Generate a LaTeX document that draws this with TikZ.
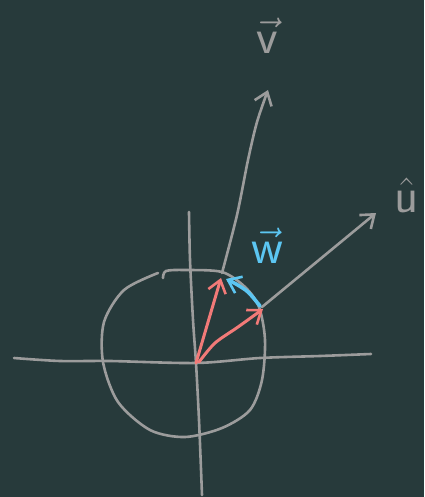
\documentclass[tikz,border=0pt]{standalone}
\usetikzlibrary{arrows.meta}
\definecolor{bg}{HTML}{273A3B}
\definecolor{chalk}{HTML}{9C9C9C}
\definecolor{redv}{HTML}{F27A78}
\definecolor{bluev}{HTML}{5CC6F2}
\begin{document}
\begin{tikzpicture}[x=0.5pt,y=-0.5pt,
  line cap=round,line join=round,
  gline/.style={draw=chalk,line width=1.3pt},
  rline/.style={draw=redv,line width=1.5pt},
  bline/.style={draw=bluev,line width=1.8pt},
  barb/.style={-{Straight Barb[length=6pt,width=9pt,line width=1.3pt]}},
  lbl/.style={font=\fontsize{32}{34}\selectfont}]
\fill[bg] (0,0) rectangle (424,497);
\useasboundingbox (0,0) rectangle (424,497);
% coordinates
\coordinate (O) at (196,363);
\coordinate (Vb) at (222,273);
\coordinate (Vt) at (268,90);
\coordinate (Ub) at (262,307);
\coordinate (Ut) at (376,213);
\coordinate (R1) at (221,278);
\coordinate (R2) at (263,309);
\coordinate (W) at (226,279);
% axes
\draw[gline] plot[smooth] coordinates {(14,358) (60,361) (110,361) (196,363) (260,358) (320,356) (371,354)};
\draw[gline] plot[smooth] coordinates {(189,212) (190,260) (193,320) (196,363) (199,420) (202,495)};
% circle
\draw[gline] plot[smooth] coordinates {(163,278) (166,271) (185,270) (222,272) (245,287) (259,307) (265,340) (262,380) (250,410) (222,428) (185,437) (150,430) (118,402) (103,362) (104,322) (124,290) (158,273)};
% v vector
\draw[gline,barb] plot[smooth] coordinates {(Vb) (237,215) (248,160) (257,122) (Vt)};
% u vector
\draw[gline,barb] (Ub) -- (Ut);
% red vectors
\draw[rline,barb] (O) -- (R1);
\draw[rline,barb] plot[smooth] coordinates {(199,362) (215,343) (238,327) (R2)};
% blue arc
\draw[bline,barb] plot[smooth] coordinates {(260,306) (248,292) (236,284) (W)};
% labels
\node[lbl,text=chalk] (vl) at (268,36) {$\vec{\mathsf{v}}$};
\node[lbl,text=chalk] (ul) at (407,195) {$\hat{\mathsf{u}}$};
\node[lbl,text=bluev] (wl) at (268,246) {$\vec{\mathsf{w}}$};
\end{tikzpicture}
\end{document}
